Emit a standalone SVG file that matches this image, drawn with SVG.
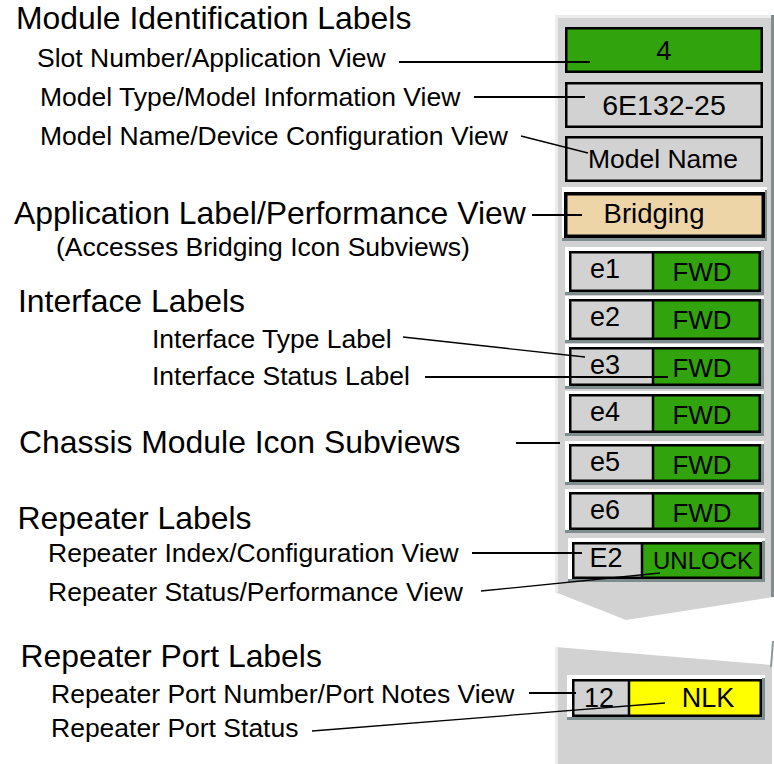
<svg xmlns="http://www.w3.org/2000/svg" width="774" height="764" viewBox="0 0 774 764">
<style>
text{font-family:"Liberation Sans",Arial,Helvetica,sans-serif;fill:#000}
.t{font-size:31.9px}
.s{font-size:26.5px}
.c{text-anchor:middle}
.bx{fill:none;stroke:#000;stroke-width:2.5}
.dv{stroke:#000;stroke-width:2.5}
.g{fill:#d2d2d2}
.gr{fill:#31a30c}
.ye{fill:#ffff00}
.tan{fill:#edd5a8}
.hi{fill:#ffffff}
.sh{fill:#7d8d8d}
.lbl{font-size:27px}
.fwd{font-size:26px}
.ln{stroke:#000;stroke-width:2;fill:none}
.sl{stroke:#000;stroke-width:1.3;fill:none}
</style>
<rect width="774" height="764" fill="#ffffff"/>

<g id="panel">
<polygon points="555,15 774,15 774,597 626,620 555,592" class="g"/>
<rect x="555" y="15" width="3" height="577" fill="#ececec"/>
<rect x="555" y="15" width="219" height="3" fill="#ececec"/>
<rect x="771" y="15" width="3" height="582" fill="#7f8f8f"/>
<polygon points="555,647 772,665 772,764 555,764" class="g"/>
<rect x="555" y="647" width="3" height="117" fill="#ececec"/>
<line x1="773" y1="641" x2="771" y2="667" stroke="#8a9a9a" stroke-width="2"/>
</g>

<g id="slot-number">
<rect class="gr" x="565" y="27" width="198" height="46"/>
<rect class="bx" x="566.25" y="28.25" width="195.5" height="43.5"/>
<text class="c" x="664" y="60" font-size="27.5">4</text>
</g>

<g id="model-type">
<rect class="g" x="565" y="82" width="198" height="46"/>
<rect class="bx" x="566.25" y="83.25" width="195.5" height="43.5"/>
<text class="c" x="664" y="115" font-size="28.5">6E132-25</text>
</g>

<g id="model-name">
<rect class="g" x="565" y="136" width="198" height="46"/>
<rect class="bx" x="566.25" y="137.25" width="195.5" height="43.5"/>
<text class="c" x="663" y="168" font-size="26.5">Model Name</text>
</g>

<g id="application-label">
<rect class="hi" x="562" y="187" width="205" height="54"/>
<rect class="sh" x="562" y="238" width="205" height="3"/>
<rect class="sh" x="765" y="190" width="2" height="48"/>
<rect class="tan" x="564" y="192" width="201" height="46"/>
<rect class="bx" x="565.75" y="193.75" width="197.5" height="42.5" style="stroke-width:3.5"/>
<text class="c" x="654" y="223" font-size="27.5">Bridging</text>
</g>

<g id="interface-e1">
<rect class="hi" x="565" y="247" width="199" height="48"/>
<rect class="sh" x="565" y="292" width="199" height="3"/>
<rect class="sh" x="761" y="250" width="3" height="42"/>
<rect class="g" x="569" y="251" width="84" height="41"/>
<rect class="gr" x="653" y="251" width="108" height="41"/>
<rect class="bx" x="570.25" y="252.25" width="189.5" height="38.5"/>
<line class="dv" x1="653" y1="251" x2="653" y2="292"/>
<text class="c lbl" x="605" y="278">e1</text>
<text class="c fwd" x="702" y="281">FWD</text>
</g>

<g id="interface-e2">
<rect class="hi" x="565" y="296" width="199" height="47"/>
<rect class="sh" x="565" y="340" width="199" height="3"/>
<rect class="sh" x="761" y="299" width="3" height="41"/>
<rect class="g" x="569" y="299" width="84" height="41"/>
<rect class="gr" x="653" y="299" width="108" height="41"/>
<rect class="bx" x="570.25" y="300.25" width="189.5" height="38.5"/>
<line class="dv" x1="653" y1="299" x2="653" y2="340"/>
<text class="c lbl" x="605" y="326">e2</text>
<text class="c fwd" x="702" y="329">FWD</text>
</g>

<g id="interface-e3">
<rect class="hi" x="565" y="344" width="199" height="45"/>
<rect class="sh" x="565" y="386" width="199" height="3"/>
<rect class="sh" x="761" y="347" width="3" height="39"/>
<rect class="g" x="569" y="347" width="84" height="39"/>
<rect class="gr" x="653" y="347" width="108" height="39"/>
<rect class="bx" x="570.25" y="348.25" width="189.5" height="36.5"/>
<line class="dv" x1="653" y1="347" x2="653" y2="386"/>
<text class="c lbl" x="605" y="374">e3</text>
<text class="c fwd" x="702" y="377">FWD</text>
</g>

<g id="interface-e4">
<rect class="hi" x="565" y="391" width="199" height="45"/>
<rect class="sh" x="565" y="433" width="199" height="3"/>
<rect class="sh" x="761" y="394" width="3" height="39"/>
<rect class="g" x="569" y="394" width="84" height="39"/>
<rect class="gr" x="653" y="394" width="108" height="39"/>
<rect class="bx" x="570.25" y="395.25" width="189.5" height="36.5"/>
<line class="dv" x1="653" y1="394" x2="653" y2="433"/>
<text class="c lbl" x="605" y="421">e4</text>
<text class="c fwd" x="702" y="424">FWD</text>
</g>

<g id="interface-e5">
<rect class="hi" x="565" y="441" width="199" height="44"/>
<rect class="sh" x="565" y="482" width="199" height="3"/>
<rect class="sh" x="761" y="444" width="3" height="38"/>
<rect class="g" x="569" y="444" width="84" height="38"/>
<rect class="gr" x="653" y="444" width="108" height="38"/>
<rect class="bx" x="570.25" y="445.25" width="189.5" height="35.5"/>
<line class="dv" x1="653" y1="444" x2="653" y2="482"/>
<text class="c lbl" x="605" y="471">e5</text>
<text class="c fwd" x="702" y="474">FWD</text>
</g>

<g id="interface-e6">
<rect class="hi" x="565" y="489" width="199" height="44"/>
<rect class="sh" x="565" y="530" width="199" height="3"/>
<rect class="sh" x="761" y="492" width="3" height="38"/>
<rect class="g" x="569" y="492" width="84" height="38"/>
<rect class="gr" x="653" y="492" width="108" height="38"/>
<rect class="bx" x="570.25" y="493.25" width="189.5" height="35.5"/>
<line class="dv" x1="653" y1="492" x2="653" y2="530"/>
<text class="c lbl" x="605" y="519">e6</text>
<text class="c fwd" x="702" y="522">FWD</text>
</g>

<g id="repeater-e2">
<rect class="hi" x="568" y="538" width="197" height="44"/>
<rect class="sh" x="568" y="579" width="197" height="3"/>
<rect class="sh" x="762" y="541" width="3" height="38"/>
<rect class="g" x="572" y="542" width="70" height="37"/>
<rect class="gr" x="642" y="542" width="120" height="37"/>
<rect class="bx" x="573.25" y="543.25" width="187.5" height="34.5"/>
<line class="dv" x1="642" y1="542" x2="642" y2="579"/>
<text class="c lbl" x="606" y="567">E2</text>
<text class="c" x="703" y="569" font-size="24">UNLOCK</text>
</g>

<g id="repeater-port-12">
<rect class="hi" x="567" y="675" width="198" height="45"/>
<rect class="sh" x="567" y="717" width="198" height="3"/>
<rect class="sh" x="762" y="678" width="3" height="39"/>
<rect class="g" x="572" y="679" width="57" height="38"/>
<rect class="ye" x="629" y="679" width="133" height="38"/>
<rect class="bx" x="573.25" y="680.25" width="187.5" height="35.5"/>
<line class="dv" x1="629" y1="679" x2="629" y2="717"/>
<text class="c lbl" x="599" y="707">12</text>
<text class="c" x="708" y="707" font-size="27">NLK</text>
</g>

<g id="labels">
<text class="t" x="16" y="29">Module Identification Labels</text>
<text class="s" x="37" y="67">Slot Number/Application View</text>
<text class="s" x="40" y="106">Model Type/Model Information View</text>
<text class="s" x="40" y="145">Model Name/Device Configuration View</text>
<text class="t" x="14" y="224">Application Label/Performance View</text>
<text class="s" x="56" y="256">(Accesses Bridging Icon Subviews)</text>
<text class="t" x="18" y="312">Interface Labels</text>
<text class="s" x="152" y="348">Interface Type Label</text>
<text class="s" x="152" y="385">Interface Status Label</text>
<text class="t" x="19" y="453">Chassis Module Icon Subviews</text>
<text class="t" x="17.5" y="529">Repeater Labels</text>
<text class="s" x="48" y="562">Repeater Index/Configuration View</text>
<text class="s" x="48" y="601">Repeater Status/Performance View</text>
<text class="t" x="20.5" y="667">Repeater Port Labels</text>
<text class="s" x="51" y="703">Repeater Port Number/Port Notes View</text>
<text class="s" x="51" y="737">Repeater Port Status</text>
</g>

<g id="connectors">
<line class="ln" x1="399" y1="62" x2="590" y2="62"/>
<line class="ln" x1="474" y1="97" x2="585" y2="97"/>
<line class="sl" x1="521" y1="136" x2="588" y2="153"/>
<line class="ln" x1="532" y1="215" x2="582" y2="215"/>
<line class="sl" x1="403" y1="337" x2="585" y2="357"/>
<line class="ln" x1="425" y1="377" x2="668" y2="377"/>
<line class="ln" x1="516" y1="443" x2="560" y2="443"/>
<line class="ln" x1="472" y1="553" x2="582" y2="553"/>
<line class="sl" x1="481" y1="591" x2="660" y2="573"/>
<line class="ln" x1="529" y1="693" x2="576" y2="693"/>
<line class="sl" x1="312" y1="731" x2="665" y2="703"/>
</g>
</svg>
